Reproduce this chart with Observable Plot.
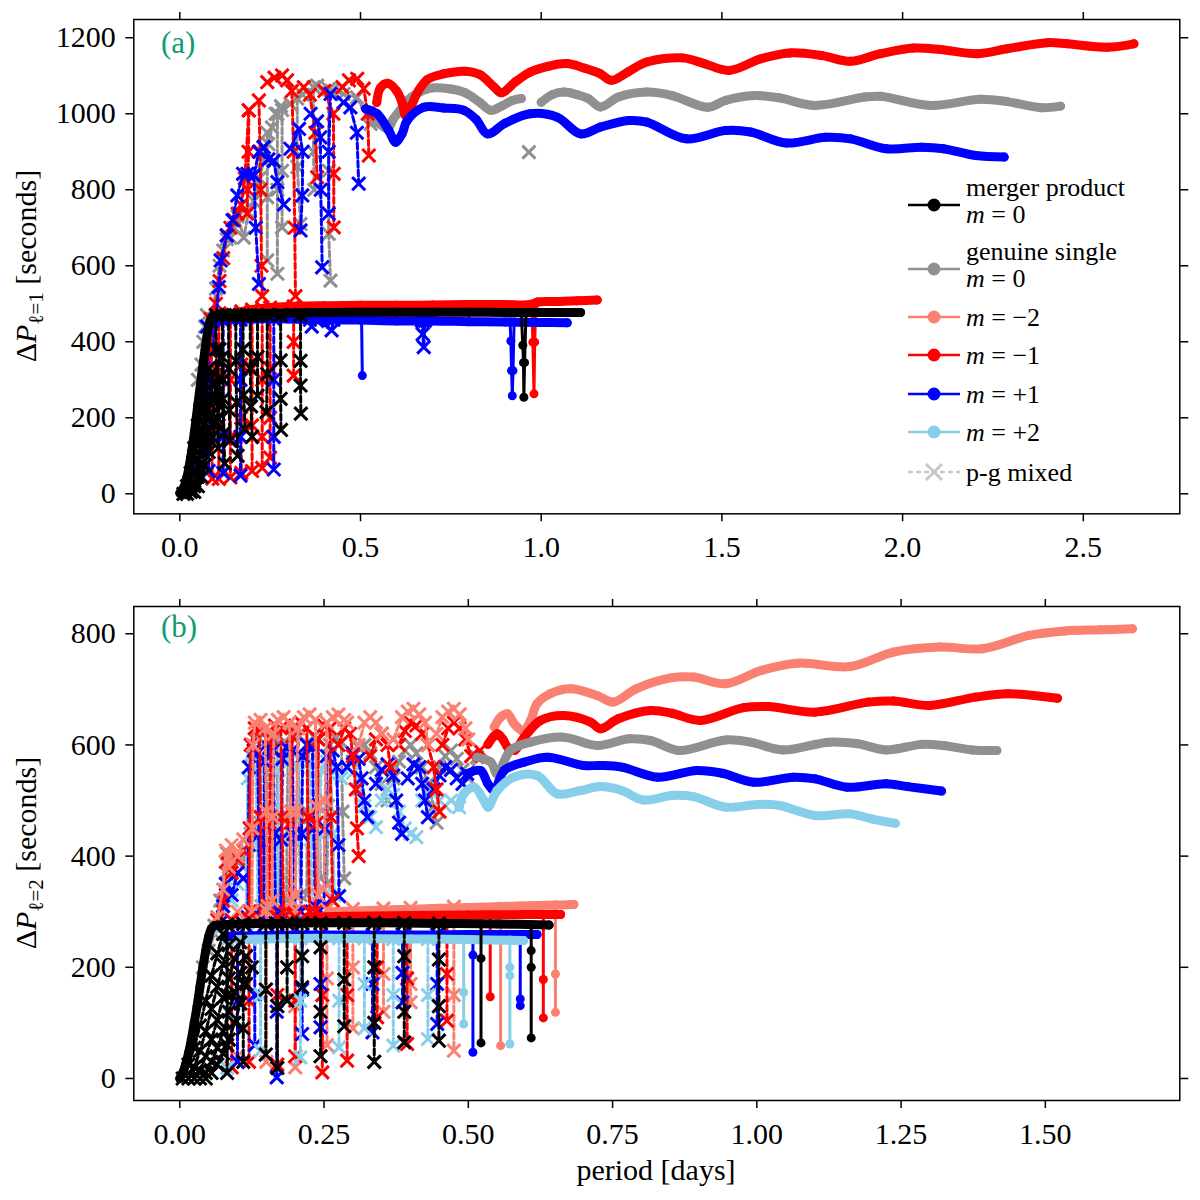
<!DOCTYPE html>
<html>
<head>
<meta charset="utf-8">
<script src="https://cdn.jsdelivr.net/npm/d3@7"></script>
<script src="https://cdn.jsdelivr.net/npm/@observablehq/plot@0.6"></script>
<style>
  body { margin: 0; background: #fff; }
  #chart svg { display: block; }
</style>
</head>
<body>
<div id="chart"></div>
<script>
// ---------- panel (a): l = 1 ----------
const xTicksA = [0, 0.5, 1.0, 1.5, 2.0, 2.5];
const yTicksA = [0, 200, 400, 600, 800, 1000, 1200];

// merger product, dense g-mode runs
const blackA = [[[0.0,2],[0.01,15],[0.02,45],[0.03,95],[0.04,160],[0.05,235],[0.06,310],[0.07,380],[0.08,440],[0.09,466],[0.12,472],[0.2,474],[0.3,476],[0.4,477],[0.5,478],[0.6,478],[0.7,478],[0.8,478],[0.9,477],[1.0,477],[1.05,477],[1.109,477]]];
const blackDipA = [[[0.945,476],[0.949,391],[0.951,345],[0.952,254],[0.954,345],[0.958,476]]];
const blackMixA = [
  [[0.01,0],[0.02,20],[0.03,55],[0.04,100],[0.05,150],[0.06,210],[0.07,270],[0.08,330]],
  [[0.02,0],[0.03,20],[0.04,50],[0.05,90],[0.06,135],[0.07,185],[0.08,240],[0.09,290]],
  [[0.03,5],[0.04,20],[0.05,45],[0.06,80],[0.07,120],[0.08,165],[0.09,210],[0.1,250]],
  [[0.04,5],[0.05,20],[0.06,45],[0.07,75],[0.08,110],[0.09,150],[0.1,190],[0.11,230]],
  [[0.04,120],[0.05,180],[0.06,140],[0.07,250],[0.08,200],[0.09,320],[0.1,260],[0.11,380],[0.12,300]],
  [[0.1,470],[0.1,380],[0.102,290],[0.104,200],[0.106,120]],
  [[0.118,470],[0.118,360],[0.12,250],[0.122,160],[0.124,80]],
  [[0.135,470],[0.135,330],[0.137,220],[0.139,140]],
  [[0.155,470],[0.155,350],[0.157,240],[0.16,100]],
  [[0.175,470],[0.175,380],[0.177,260],[0.18,170]],
  [[0.195,470],[0.195,330],[0.197,230],[0.2,150]],
  [[0.215,470],[0.215,360],[0.215,258]],
  [[0.242,470],[0.242,315],[0.24,215]],
  [[0.279,470],[0.279,351],[0.279,250],[0.28,168]],
  [[0.334,470],[0.334,350],[0.334,285],[0.335,211]]
];
const redLowA = [[[0.09,455],[0.1,465],[0.15,475],[0.2,485],[0.25,490],[0.3,493],[0.4,495],[0.5,496],[0.6,496],[0.7,497],[0.8,498],[0.9,498],[0.97,498],[0.99,505],[1.05,506],[1.1,508],[1.155,510]]];
const redDipA = [[[0.974,498],[0.977,399],[0.98,263],[0.982,399],[0.985,500]]];
const redMixLowA = [
  [[0.085,460],[0.087,300],[0.089,150],[0.09,40]],
  [[0.108,470],[0.108,320],[0.108,180],[0.108,39]],
  [[0.14,475],[0.14,300],[0.14,150],[0.14,43]],
  [[0.17,480],[0.17,340],[0.17,200],[0.17,55]],
  [[0.2,485],[0.2,330],[0.2,180],[0.2,60]],
  [[0.228,488],[0.228,300],[0.228,150],[0.228,68]],
  [[0.25,490],[0.25,330],[0.25,200],[0.25,95]],
  [[0.315,493],[0.315,400],[0.315,311]]
];
const blueLowA = [[[0.08,440],[0.1,455],[0.15,458],[0.2,460],[0.3,460],[0.4,458],[0.5,457],[0.6,455],[0.7,455],[0.8,453],[0.9,452],[1.0,451],[1.072,450]]];
const blueDipA = [[[0.503,457],[0.505,311]], [[0.914,452],[0.916,402],[0.918,324],[0.92,258],[0.922,324],[0.925,452]]];
const blueMixLowA = [
  [[0.075,440],[0.077,300],[0.079,150],[0.08,60]],
  [[0.12,455],[0.12,300],[0.12,150],[0.12,55]],
  [[0.168,458],[0.168,300],[0.168,150],[0.168,48]],
  [[0.26,460],[0.26,300],[0.26,150],[0.26,64]],
  [[0.36,458],[0.365,440],[0.38,455],[0.42,430],[0.425,458]],
  [[0.67,455],[0.672,420],[0.675,386],[0.678,455]]
];
// genuine single, upper branch
const grayHighA = [
  [[0.52,985],[0.55,975],[0.575,960],[0.59,985],[0.61,1010],[0.63,1035],[0.66,1055],[0.7,1068],[0.75,1065],[0.79,1055],[0.83,1030],[0.86,1009],[0.89,1020],[0.92,1035],[0.945,1040]],
  [[1.0,1030],[1.03,1050],[1.063,1057],[1.1,1050],[1.13,1040],[1.164,1018],[1.214,1044],[1.292,1057],[1.362,1048],[1.461,1017],[1.51,1035],[1.589,1048],[1.658,1042],[1.757,1022],[1.895,1044],[1.939,1046],[2.077,1022],[2.216,1038],[2.289,1032],[2.382,1016],[2.437,1020]]
];
const redHighA = [[[0.545,1030],[0.555,1068],[0.575,1080],[0.6,1060],[0.615,1030],[0.625,995],[0.64,1020],[0.66,1060],[0.685,1090],[0.73,1105],[0.79,1112],[0.83,1103],[0.87,1070],[0.89,1055],[0.93,1085],[0.97,1110],[1.02,1125],[1.07,1132],[1.12,1120],[1.164,1105],[1.194,1088],[1.24,1110],[1.292,1136],[1.391,1147],[1.451,1132],[1.52,1114],[1.609,1145],[1.688,1160],[1.777,1153],[1.856,1138],[1.939,1158],[2.031,1173],[2.105,1169],[2.206,1158],[2.289,1171],[2.4,1187],[2.456,1184],[2.566,1175],[2.64,1184]]];
const blueHighA = [[[0.514,1013],[0.546,1000],[0.578,956],[0.597,925],[0.615,947],[0.629,982],[0.675,1017],[0.73,1015],[0.786,1009],[0.82,985],[0.851,947],[0.9,975],[0.97,1000],[1.044,991],[1.109,947],[1.164,965],[1.243,982],[1.292,978],[1.401,934],[1.51,956],[1.579,952],[1.678,923],[1.787,938],[1.856,934],[1.955,908],[2.053,912],[2.113,908],[2.202,890],[2.281,886]]];
const grayMixA = [
  [[0.04,60],[0.05,120],[0.06,200],[0.07,290],[0.08,380],[0.09,460],[0.1,540],[0.11,600],[0.12,640],[0.13,670],[0.14,674],[0.15,700],[0.16,730],[0.177,674],[0.19,740],[0.205,770],[0.22,830],[0.232,876],[0.245,920],[0.255,964],[0.265,1000],[0.28,1020],[0.306,1026],[0.34,1050],[0.38,1074],[0.42,1060],[0.453,1052],[0.49,1043],[0.528,973]],
  [[0.05,300],[0.06,340],[0.065,400],[0.07,440],[0.075,470]],
  [[0.242,950],[0.242,780],[0.242,614]],
  [[0.27,1000],[0.27,800],[0.27,579]],
  [[0.283,1010],[0.283,850],[0.283,701]],
  [[0.325,1040],[0.325,860],[0.334,710]],
  [[0.37,1070],[0.37,900],[0.372,800]],
  [[0.412,1065],[0.412,850],[0.412,684],[0.417,561]],
  [[0.966,899]]
];
const redMixA = [
  [[0.05,60],[0.06,130],[0.07,230],[0.08,330],[0.09,420],[0.1,500],[0.11,560],[0.12,620],[0.13,680],[0.14,700],[0.15,720],[0.16,737],[0.17,760],[0.18,830],[0.191,1009]],
  [[0.191,1009],[0.19,900],[0.188,800],[0.186,737]],
  [[0.219,1035],[0.222,900],[0.224,800],[0.226,600],[0.228,520]],
  [[0.242,1083],[0.262,1095],[0.283,1101],[0.297,1088],[0.31,1060],[0.315,900],[0.318,700],[0.32,520]],
  [[0.343,1070],[0.36,1050],[0.375,950],[0.38,833]],
  [[0.40,1060],[0.425,1000],[0.426,842],[0.426,701]],
  [[0.45,1070],[0.468,1088],[0.491,1092],[0.509,1066],[0.52,1000],[0.523,890]]
];
const blueMixA = [
  [[0.05,60],[0.06,120],[0.07,200],[0.08,300],[0.09,380],[0.1,460],[0.108,544],[0.113,614],[0.13,680],[0.146,720],[0.159,785],[0.175,842],[0.187,842],[0.205,838],[0.219,900],[0.232,912]],
  [[0.205,838],[0.21,700],[0.219,552]],
  [[0.232,912],[0.245,880],[0.26,876],[0.27,820],[0.288,761]],
  [[0.306,908],[0.33,960],[0.34,900],[0.339,785],[0.334,693]],
  [[0.362,1000],[0.38,980],[0.389,938],[0.39,800],[0.394,596]],
  [[0.417,1052],[0.412,900],[0.412,737]],
  [[0.453,1030],[0.472,1017],[0.49,950],[0.495,816]]
];

// ---------- panel (b): l = 2 ----------
const xTicksB = [0, 0.25, 0.5, 0.75, 1.0, 1.25, 1.5];
const yTicksB = [0, 200, 400, 600, 800];

const blackB = [[[0.0,0],[0.005,10],[0.01,25],[0.015,45],[0.02,70],[0.025,100],[0.03,130],[0.035,165],[0.04,200],[0.045,230],[0.05,255],[0.055,270],[0.06,275],[0.08,277],[0.15,279],[0.25,280],[0.35,280],[0.45,279],[0.55,278],[0.64,276]]];
const blackDipB = [[[0.522,278],[0.522,216],[0.522,64]], [[0.609,276],[0.609,230],[0.609,200],[0.609,73]]];
const blackMixB = [
  [[0.005,0],[0.015,25],[0.025,55],[0.035,95],[0.045,140],[0.055,185],[0.065,225],[0.075,260]],
  [[0.015,0],[0.025,20],[0.035,50],[0.045,85],[0.055,125],[0.065,165],[0.075,205],[0.085,240]],
  [[0.025,0],[0.035,15],[0.045,40],[0.055,70],[0.065,105],[0.075,145],[0.085,180],[0.095,215],[0.105,245]],
  [[0.035,0],[0.045,10],[0.055,30],[0.065,55],[0.075,85],[0.085,120],[0.095,155],[0.105,190],[0.115,220]],
  [[0.045,0],[0.055,10],[0.065,25],[0.075,45],[0.085,70],[0.095,100],[0.105,135],[0.115,170],[0.125,200]],
  [[0.082,277],[0.082,150],[0.082,60],[0.082,10]],
  [[0.11,278],[0.11,170],[0.11,90],[0.11,30]],
  [[0.149,278],[0.149,160],[0.149,43]],
  [[0.169,278],[0.169,130],[0.169,19]],
  [[0.186,279],[0.186,200],[0.186,140]],
  [[0.212,279],[0.212,220],[0.212,164]],
  [[0.244,280],[0.244,236],[0.244,120],[0.244,40]],
  [[0.285,280],[0.285,178],[0.285,94]],
  [[0.337,280],[0.337,200],[0.337,100],[0.337,30]],
  [[0.389,280],[0.389,220],[0.389,120],[0.389,65]],
  [[0.449,279],[0.449,214],[0.449,130],[0.449,68]]
];
const salmonLowB = [[[0.26,300],[0.35,303],[0.45,306],[0.55,309],[0.65,312],[0.683,313]]];
const salmonDipB = [[[0.556,310],[0.556,59]], [[0.651,312],[0.651,188],[0.651,119]]];
const salmonMixB = [
  [[0.1,300],[0.1,150],[0.1,40]],
  [[0.15,302],[0.15,160],[0.15,30]],
  [[0.2,303],[0.2,130],[0.2,20]],
  [[0.255,304],[0.255,180],[0.255,60]],
  [[0.3,305],[0.3,200],[0.3,90]],
  [[0.353,306],[0.353,188],[0.353,120]],
  [[0.40,307],[0.40,170],[0.40,137]],
  [[0.475,309],[0.475,150],[0.475,50]]
];
const redLowB = [[[0.22,290],[0.3,292],[0.4,293],[0.5,294],[0.6,295],[0.66,295]]];
const redDipB = [[[0.538,294],[0.538,147]], [[0.630,295],[0.630,178],[0.630,109]]];
const redMixB = [
  [[0.09,285],[0.09,150],[0.09,20]],
  [[0.12,287],[0.12,140],[0.12,30]],
  [[0.169,290],[0.169,150],[0.169,25]],
  [[0.2,290],[0.2,140],[0.2,40]],
  [[0.247,291],[0.247,150],[0.247,11]],
  [[0.29,292],[0.29,150],[0.29,32]],
  [[0.342,293],[0.342,200],[0.342,110]],
  [[0.394,293],[0.394,180],[0.394,62]],
  [[0.463,294],[0.463,188],[0.463,104]]
];
const blueLowB = [[[0.08,256],[0.2,258],[0.3,258],[0.4,258],[0.5,259],[0.619,259]]];
const blueDipB = [[[0.508,259],[0.508,222],[0.508,47]], [[0.590,259],[0.590,143],[0.590,131]]];
const blueMixB = [
  [[0.1,258],[0.1,140],[0.1,30]],
  [[0.13,258],[0.13,150],[0.13,60]],
  [[0.168,258],[0.168,120],[0.168,2]],
  [[0.212,258],[0.212,160],[0.212,80]],
  [[0.244,258],[0.244,170],[0.244,92]],
  [[0.334,258],[0.334,170],[0.334,83]],
  [[0.386,259],[0.386,190],[0.386,137]],
  [[0.446,259],[0.446,170],[0.446,98]]
];
const skyLowB = [[[0.1,250],[0.2,252],[0.3,252],[0.4,251],[0.5,250],[0.596,248]]];
const skyDipB = [[[0.492,250],[0.492,155],[0.492,98]], [[0.572,249],[0.572,200],[0.572,185],[0.572,62]]];
const skyMixB = [
  [[0.082,250],[0.082,120],[0.082,19]],
  [[0.14,251],[0.14,150],[0.14,50]],
  [[0.209,252],[0.209,140],[0.209,38]],
  [[0.276,252],[0.276,140],[0.276,56]],
  [[0.32,252],[0.32,170],[0.32,90]],
  [[0.37,251],[0.37,150],[0.37,59]],
  [[0.43,251],[0.43,150],[0.43,71]]
];
// genuine single, upper branch
const grayHighB = [[[0.515,578],[0.539,569],[0.55,548],[0.573,590],[0.608,605],[0.665,614],[0.723,599],[0.779,611],[0.816,608],[0.865,590],[0.946,609],[0.989,605],[1.045,591],[1.125,605],[1.175,602],[1.224,591],[1.286,601],[1.323,599],[1.373,591],[1.416,590]]];
const salmonHighB = [[[0.545,632],[0.556,650],[0.568,656],[0.578,640],[0.585,632],[0.595,625],[0.608,644],[0.619,674],[0.642,692],[0.677,701],[0.723,689],[0.751,677],[0.791,701],[0.853,721],[0.89,722],[0.946,710],[1.008,734],[1.07,747],[1.162,741],[1.237,767],[1.317,776],[1.391,773],[1.472,797],[1.534,805],[1.596,807],[1.651,809]]];
const redHighB = [[[0.534,601],[0.55,620],[0.56,610],[0.568,596],[0.58,590],[0.597,614],[0.625,644],[0.665,653],[0.712,641],[0.729,629],[0.76,647],[0.816,662],[0.853,657],[0.902,644],[0.977,667],[1.02,669],[1.101,659],[1.193,677],[1.237,679],[1.299,671],[1.379,686],[1.435,692],[1.521,684]]];
const blueHighB = [[[0.498,548],[0.521,554],[0.534,530],[0.545,518],[0.562,554],[0.597,569],[0.637,578],[0.7,563],[0.729,563],[0.766,560],[0.828,542],[0.896,554],[0.94,549],[0.995,533],[1.063,542],[1.101,539],[1.156,524],[1.224,530],[1.261,525],[1.32,517]]];
const skyHighB = [[[0.484,488],[0.492,512],[0.51,524],[0.527,500],[0.534,488],[0.55,518],[0.579,542],[0.619,545],[0.654,512],[0.694,518],[0.729,525],[0.766,518],[0.803,501],[0.853,509],[0.89,507],[0.946,488],[1.001,493],[1.039,491],[1.101,473],[1.162,476],[1.199,467],[1.24,459]]];
const grayMixB = [
  [[0.06,275],[0.07,320],[0.075,300],[0.08,370],[0.082,405],[0.09,360],[0.1,390],[0.11,380],[0.115,410]],
  [[0.04,200],[0.05,230],[0.06,260],[0.065,290],[0.07,270]],
  [[0.122,300],[0.123,440],[0.124,580],[0.13,610],[0.138,612],[0.14,460],[0.142,310]],
  [[0.15,310],[0.151,450],[0.153,590],[0.16,615],[0.168,618],[0.17,470],[0.172,320]],
  [[0.185,320],[0.186,470],[0.188,600],[0.195,620],[0.205,618],[0.207,470],[0.209,330]],
  [[0.22,330],[0.221,480],[0.223,600],[0.232,615],[0.24,610],[0.242,490],[0.244,360]],
  [[0.255,350],[0.257,490],[0.26,600],[0.27,612],[0.28,605],[0.282,480],[0.285,360]],
  [[0.3,570],[0.31,595],[0.32,600],[0.33,585],[0.34,560],[0.35,530],[0.36,500]],
  [[0.37,540],[0.38,570],[0.39,590],[0.4,600],[0.41,585],[0.42,560],[0.43,530],[0.44,490],[0.445,460]],
  [[0.45,560],[0.46,580],[0.47,590],[0.48,575],[0.49,555],[0.5,540],[0.515,578]]
];
const salmonMixHighB = [
  [[0.065,290],[0.075,340],[0.08,410],[0.085,380],[0.09,420],[0.1,400],[0.11,430]],
  [[0.125,300],[0.126,450],[0.127,600],[0.13,640],[0.14,645],[0.148,630],[0.15,480],[0.152,310]],
  [[0.16,320],[0.161,470],[0.163,620],[0.17,645],[0.18,650],[0.19,640],[0.192,480],[0.194,320]],
  [[0.2,330],[0.202,480],[0.205,630],[0.215,650],[0.225,655],[0.235,645],[0.237,490],[0.24,330]],
  [[0.25,340],[0.252,500],[0.255,640],[0.265,650],[0.275,655],[0.285,645],[0.29,640]],
  [[0.31,600],[0.32,640],[0.33,650],[0.34,640],[0.35,620]],
  [[0.37,610],[0.385,650],[0.395,660],[0.405,665],[0.415,655],[0.425,640],[0.43,600]],
  [[0.445,620],[0.455,650],[0.465,660],[0.475,665],[0.485,655],[0.495,630],[0.5,610]]
];
const redMixHighB = [
  [[0.065,285],[0.075,320],[0.08,390],[0.09,370],[0.1,395],[0.11,410]],
  [[0.12,300],[0.121,450],[0.123,600],[0.13,630],[0.138,625],[0.14,470],[0.142,300]],
  [[0.155,310],[0.156,460],[0.158,610],[0.165,635],[0.175,630],[0.177,470],[0.18,300]],
  [[0.19,300],[0.192,460],[0.195,615],[0.2,635],[0.21,640],[0.22,630],[0.222,470],[0.225,300]],
  [[0.235,300],[0.238,460],[0.24,610],[0.25,635],[0.26,630],[0.262,470],[0.265,320]],
  [[0.275,600],[0.285,630],[0.295,620],[0.3,580],[0.305,520],[0.307,450],[0.31,400]],
  [[0.33,580],[0.34,610],[0.35,620],[0.36,600],[0.365,560]],
  [[0.38,600],[0.39,625],[0.4,640],[0.41,635],[0.42,620],[0.43,600],[0.44,560],[0.445,520],[0.45,480]],
  [[0.455,600],[0.465,630],[0.475,640],[0.485,630],[0.495,610],[0.505,580],[0.52,590]]
];
const blueMixHighB = [
  [[0.07,280],[0.075,310],[0.08,350],[0.09,330],[0.1,370],[0.11,360]],
  [[0.118,290],[0.119,420],[0.12,560],[0.128,590],[0.135,585],[0.137,440],[0.139,290]],
  [[0.145,290],[0.146,420],[0.147,570],[0.155,595],[0.162,590],[0.164,440],[0.166,300]],
  [[0.175,300],[0.176,430],[0.178,575],[0.185,595],[0.195,590],[0.197,440],[0.2,300]],
  [[0.21,300],[0.211,440],[0.213,580],[0.22,600],[0.23,595],[0.232,450],[0.235,310]],
  [[0.25,310],[0.252,450],[0.255,580],[0.265,590],[0.272,560],[0.275,420],[0.276,328]],
  [[0.29,560],[0.3,585],[0.31,575],[0.315,540],[0.32,500],[0.325,470]],
  [[0.34,530],[0.35,555],[0.36,565],[0.37,545],[0.375,500],[0.38,460],[0.385,440]],
  [[0.395,540],[0.405,565],[0.415,560],[0.42,530],[0.425,500],[0.43,470]],
  [[0.44,520],[0.45,545],[0.46,560],[0.47,555],[0.48,540],[0.49,530],[0.498,548]]
];
const skyMixHighB = [
  [[0.07,270],[0.075,300],[0.08,340],[0.09,320],[0.1,350]],
  [[0.115,280],[0.116,410],[0.118,540],[0.125,565],[0.132,560],[0.134,420],[0.136,280]],
  [[0.14,290],[0.141,420],[0.143,550],[0.15,570],[0.158,565],[0.16,420],[0.162,290]],
  [[0.168,290],[0.17,420],[0.172,555],[0.18,575],[0.19,570],[0.192,430],[0.194,290]],
  [[0.2,300],[0.202,430],[0.205,560],[0.215,575],[0.225,570],[0.227,430],[0.23,300]],
  [[0.24,300],[0.242,440],[0.245,555],[0.255,570],[0.262,545],[0.265,440],[0.268,330]],
  [[0.28,540],[0.29,560],[0.3,550],[0.31,520],[0.32,490],[0.33,470],[0.34,452]],
  [[0.35,500],[0.36,520],[0.37,510],[0.38,480],[0.39,450],[0.4,440],[0.41,434]],
  [[0.42,500],[0.43,520],[0.44,515],[0.45,500],[0.46,490],[0.47,500],[0.484,488]]
];

const legendItems = [
  {label: ["merger product", "m = 0"], color: "#000000", kind: "solid"},
  {label: ["genuine single", "m = 0"], color: "#909090", kind: "solid"},
  {label: ["m = \u22122"], color: "#fa8072", kind: "solid"},
  {label: ["m = \u22121"], color: "#ff0000", kind: "solid"},
  {label: ["m = +1"], color: "#0000ff", kind: "solid"},
  {label: ["m = +2"], color: "#87ceeb", kind: "solid"},
  {label: ["p-g mixed"], color: "#c8c8c8", kind: "mixed"}
];

const FONT = "'Liberation Serif', 'Times New Roman', serif";
const col = {black: "#000000", gray: "#909090", salmon: "#fa8072", red: "#ff0000", blue: "#0000ff", sky: "#87ceeb"};

function rows(segs) {
  return segs.flatMap((s, i) => s.map(([p, d]) => ({p, d, s: i})));
}
// dense run of g modes: circles packed so tightly they read as a thick band
function curve(segs, color) {
  const r = rows(segs);
  return [
    Plot.line(r, {x: "p", y: "d", z: "s", stroke: color, strokeWidth: 9, curve: "catmull-rom", strokeLinecap: "round", strokeLinejoin: "round"}),
    Plot.dot(r, {x: "p", y: "d", r: 4.5, fill: color})
  ];
}
function dip(segs, color) {
  const r = rows(segs);
  return [
    Plot.line(r, {x: "p", y: "d", z: "s", stroke: color, strokeWidth: 3}),
    Plot.dot(r, {x: "p", y: "d", r: 4.5, fill: color})
  ];
}
function mixed(segs, color) {
  const r = rows(segs);
  return [
    Plot.line(r, {x: "p", y: "d", z: "s", stroke: color, strokeWidth: 3, strokeDasharray: "6,3"}),
    Plot.dot(r, {x: "p", y: "d", r: 6, symbol: "times", stroke: color, strokeWidth: 3})
  ];
}
function axes(xt, yt, xfmt) {
  return [
    Plot.axisX(xt, {anchor: "bottom", tickSize: 8, tickPadding: 14, strokeWidth: 1.5, tickFormat: xfmt, label: null}),
    Plot.axisX(xt, {anchor: "top", tickSize: 8, strokeWidth: 1.5, tickFormat: () => "", label: null}),
    Plot.axisY(yt, {anchor: "left", tickSize: 8, tickPadding: 10, strokeWidth: 1.5, tickFormat: d => String(d), label: null}),
    Plot.axisY(yt, {anchor: "right", tickSize: 8, strokeWidth: 1.5, tickFormat: () => "", label: null}),
    Plot.frame({stroke: "black", strokeWidth: 1.5})
  ];
}

function yLabel(svg, cx, cy, sub) {
  const t = d3.select(svg).append("text")
    .attr("transform", `translate(${cx},${cy}) rotate(-90)`)
    .attr("text-anchor", "middle")
    .attr("font-family", FONT)
    .attr("font-size", 30)
    .attr("fill", "black");
  t.append("tspan").text("\u0394");
  t.append("tspan").attr("font-style", "italic").text("P");
  t.append("tspan").attr("font-size", 21).attr("dy", 7).text(sub);
  t.append("tspan").attr("dy", -7).text(" [seconds]");
}
function panelTag(svg, x, y, s) {
  d3.select(svg).append("text").attr("x", x).attr("y", y).attr("text-anchor", "start")
    .attr("font-family", FONT).attr("font-size", 31).attr("fill", "#129b6f").text(s);
}

const chart = document.getElementById("chart");

// ---------- build panel (a) ----------
const plotA = Plot.plot({
  width: 1200, height: 580,
  marginTop: 19, marginBottom: 66.7, marginLeft: 133.3, marginRight: 20.7,
  style: {fontFamily: FONT, fontSize: "30px", color: "black", background: "white"},
  x: {domain: [-0.1273, 2.767]},
  y: {domain: [-52.6, 1248]},
  marks: [
    ...mixed(grayMixA, col.gray),
    ...curve(grayHighA, col.gray),
    ...mixed(redMixA, col.red),
    ...mixed(blueMixA, col.blue),
    ...curve(redHighA, col.red),
    ...curve(blueHighA, col.blue),
    ...mixed(redMixLowA, col.red),
    ...mixed(blueMixLowA, col.blue),
    ...curve(redLowA, col.red),
    ...dip(redDipA, col.red),
    ...curve(blueLowA, col.blue),
    ...dip(blueDipA, col.blue),
    ...mixed(blackMixA, col.black),
    ...curve(blackA, col.black),
    ...dip(blackDipA, col.black),
    ...axes(xTicksA, yTicksA, d => d.toFixed(1))
  ]
});
chart.appendChild(plotA);
yLabel(plotA, 36, 266, "\u2113=1");
panelTag(plotA, 161, 53, "(a)");

// legend inside panel (a)
{
  const g = d3.select(plotA).append("g").attr("font-family", FONT).attr("font-size", 26)
    .attr("fill", "black").attr("text-anchor", "start");
  const rowsY = [205, 269, 317, 355, 394, 432, 472];
  legendItems.forEach((it, i) => {
    const y = rowsY[i];
    const line = g.append("line").attr("x1", 908).attr("x2", 960).attr("y1", y).attr("y2", y)
      .attr("stroke", it.color).attr("stroke-width", 2.5);
    if (it.kind === "mixed") {
      line.attr("stroke-dasharray", "5,3");
      g.append("path").attr("d", `M${926},${y - 8}L${942},${y + 8}M${926},${y + 8}L${942},${y - 8}`)
        .attr("stroke", it.color).attr("stroke-width", 3);
    } else {
      g.append("circle").attr("cx", 934).attr("cy", y).attr("r", 6.5).attr("fill", it.color);
    }
    const lines = it.label;
    const y0 = lines.length === 2 ? y - 9 : y + 9;
    lines.forEach((s, j) => {
      const t = g.append("text").attr("x", 966).attr("y", y0 + j * 27).attr("text-anchor", "start");
      if (s.startsWith("m = ")) {
        t.append("tspan").attr("font-style", "italic").text("m");
        t.append("tspan").text(s.slice(1));
      } else {
        t.text(s);
      }
    });
  });
}

// ---------- build panel (b) ----------
const plotB = Plot.plot({
  width: 1200, height: 620,
  marginTop: 26, marginBottom: 100, marginLeft: 133.3, marginRight: 20.7,
  style: {fontFamily: FONT, fontSize: "30px", color: "black", background: "white"},
  x: {domain: [-0.0797, 1.733]},
  y: {domain: [-39.6, 849]},
  marks: [
    ...mixed(grayMixB, col.gray),
    ...mixed(skyMixHighB, col.sky),
    ...mixed(blueMixHighB, col.blue),
    ...mixed(redMixHighB, col.red),
    ...mixed(salmonMixHighB, col.salmon),
    ...curve(salmonHighB, col.salmon),
    ...curve(redHighB, col.red),
    ...curve(grayHighB, col.gray),
    ...curve(blueHighB, col.blue),
    ...curve(skyHighB, col.sky),
    ...mixed(salmonMixB, col.salmon),
    ...mixed(redMixB, col.red),
    ...mixed(blueMixB, col.blue),
    ...mixed(skyMixB, col.sky),
    ...curve(salmonLowB, col.salmon),
    ...dip(salmonDipB, col.salmon),
    ...curve(redLowB, col.red),
    ...dip(redDipB, col.red),
    ...curve(blueLowB, col.blue),
    ...dip(blueDipB, col.blue),
    ...curve(skyLowB, col.sky),
    ...dip(skyDipB, col.sky),
    ...mixed(blackMixB, col.black),
    ...curve(blackB, col.black),
    ...dip(blackDipB, col.black),
    ...axes(xTicksB, yTicksB, d => d.toFixed(2))
  ]
});
chart.appendChild(plotB);
yLabel(plotB, 36, 273, "\u2113=2");
panelTag(plotB, 161, 57, "(b)");
d3.select(plotB).append("text")
  .attr("x", 656).attr("y", 600).attr("text-anchor", "middle")
  .attr("font-family", FONT).attr("font-size", 30).attr("fill", "black")
  .text("period [days]");
</script>
</body>
</html>
